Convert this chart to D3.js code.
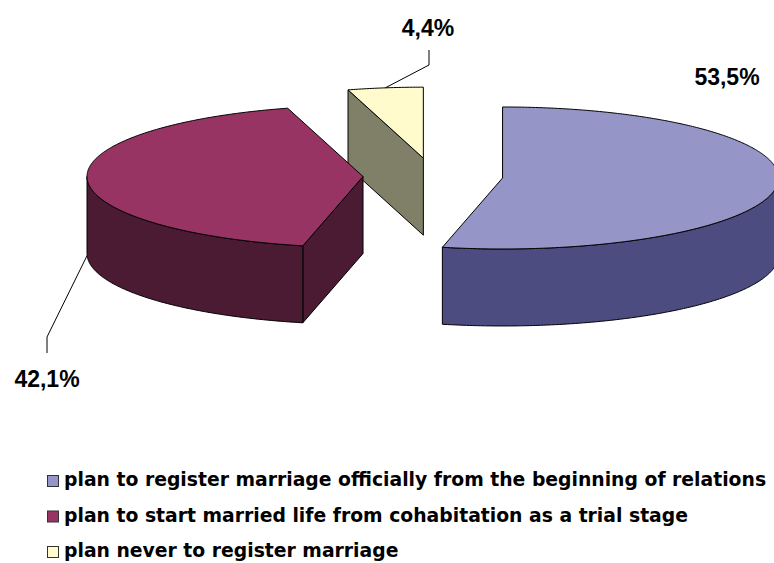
<!DOCTYPE html>
<html>
<head>
<meta charset="utf-8">
<script src="https://cdn.jsdelivr.net/npm/d3@7"></script>
<style>
  body { margin: 0; background: #fff; }
  svg { display: block; }
</style>
</head>
<body>
<svg id="chart"></svg>
<script>
const categories = [
  "plan to register marriage officially from the beginning of relations",
  "plan to start married life from cohabitation as a trial stage",
  "plan never to register marriage"
];
const values = [53.5, 42.1, 4.4];
const valueLabels = ["53,5%", "42,1%", "4,4%"];
const topColors = ["#9595c8", "#983463", "#fffbcd"];
const sideColors = ["#4c4c80", "#4b1a33", "#808068"];

const width = 774;
const height = 563;

// pie geometry (3d ellipse projection)
const cx = 433, cy = 176;     // centre of the un-exploded pie
const rx = 276, ry = 71;      // ellipse radii of the top face
const depth = 77;             // thickness of the pie
const explode = 70;           // distance each slice is pulled out

const svg = d3.select("#chart")
  .attr("width", width)
  .attr("height", height)
  .attr("viewBox", [0, 0, width, height]);

const pie = d3.pie().sort(null).value(d => d)
  .startAngle(0).endAngle(2 * Math.PI);
const arcs = pie(values);

// angle measured clockwise from 12 o'clock (back of the pie)
function pt(c, a, dy = 0) {
  return [c[0] + rx * Math.sin(a), c[1] - ry * Math.cos(a) + dy];
}
function rim(c, a0, a1, dy = 0) {
  const n = Math.max(2, Math.ceil((a1 - a0) / 0.01));
  return d3.range(n + 1).map(i => pt(c, a0 + (a1 - a0) * i / n, dy));
}
const line = d3.line();

const slices = arcs.map((d, i) => {
  const mid = (d.startAngle + d.endAngle) / 2;
  const c = [cx + explode * Math.sin(mid), cy - explode * Math.cos(mid) * ry / rx];
  return { d, i, mid, c };
});

// paint back to front
slices.slice().sort((a, b) => a.c[1] - b.c[1]).forEach(s => {
  const { d, i, c } = s;
  const g = svg.append("g")
    .attr("stroke", "#000")
    .attr("stroke-width", 1)
    .attr("stroke-linejoin", "round");

  // radial faces facing the viewer
  if (Math.sin(d.startAngle) < -1e-6) {
    const p = pt(c, d.startAngle);
    g.append("path")
      .attr("d", line([c, p, [p[0], p[1] + depth], [c[0], c[1] + depth]]) + "Z")
      .attr("fill", sideColors[i]);
  }
  if (Math.sin(d.endAngle) > 1e-6) {
    const p = pt(c, d.endAngle);
    g.append("path")
      .attr("d", line([c, p, [p[0], p[1] + depth], [c[0], c[1] + depth]]) + "Z")
      .attr("fill", sideColors[i]);
  }

  // outer wall, front half only
  const v0 = Math.max(d.startAngle, Math.PI / 2);
  const v1 = Math.min(d.endAngle, 3 * Math.PI / 2);
  if (v1 > v0) {
    const pts = rim(c, v0, v1).concat(rim(c, v0, v1, depth).reverse());
    g.append("path")
      .attr("d", line(pts) + "Z")
      .attr("fill", sideColors[i]);
  }

  // top face
  g.append("path")
    .attr("d", line([c].concat(rim(c, d.startAngle, d.endAngle))) + "Z")
    .attr("fill", topColors[i]);
});

// value labels
const labelFont = "'Liberation Sans', Arial, sans-serif";
const labels = [
  { i: 0, x: 727, y: 85, leader: null },
  { i: 1, x: 47, y: 387, leader: s => [[47, 353], [47, 337], pt(s.c, s.mid, depth)] },
  { i: 2, x: 428, y: 36, leader: s => [[429, 50], [429, 65], pt(s.c, s.mid)] }
];
labels.forEach(l => {
  const s = slices[l.i];
  if (l.leader) {
    svg.append("path")
      .attr("d", line(l.leader(s)))
      .attr("fill", "none")
      .attr("stroke", "#000")
      .attr("stroke-width", 1);
  }
  svg.append("text")
    .attr("x", l.x)
    .attr("y", l.y)
    .attr("text-anchor", "middle")
    .attr("font-family", labelFont)
    .attr("font-weight", "bold")
    .attr("font-size", "23px")
    .attr("fill", "#000")
    .text(valueLabels[l.i]);
});

// legend
const legendX = 47;
const legendY = d3.scalePoint().domain(d3.range(categories.length)).range([481, 552]);
const legend = svg.append("g");
categories.forEach((name, i) => {
  const y = legendY(i);
  legend.append("rect")
    .attr("x", legendX + 0.5)
    .attr("y", y - 6 + 0.5)
    .attr("width", 11)
    .attr("height", 11)
    .attr("fill", topColors[i])
    .attr("stroke", "#333")
    .attr("stroke-width", 1);
  legend.append("text")
    .attr("x", legendX + 17)
    .attr("y", y + 5)
    .attr("font-family", "'DejaVu Sans', Verdana, sans-serif")
    .attr("font-weight", "bold")
    .attr("font-size", "18.8px")
    .attr("fill", "#000")
    .text(name);
});
</script>
</body>
</html>
